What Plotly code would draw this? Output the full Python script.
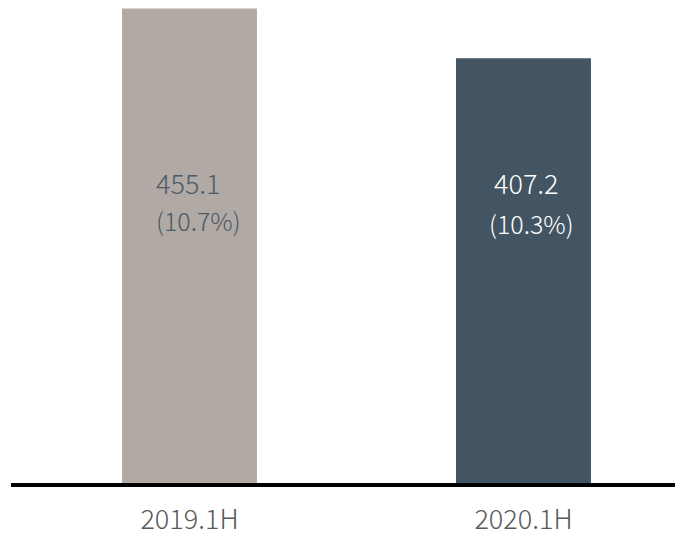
import plotly.graph_objects as go

categories = ["2019.1H", "2020.1H"]
values = [455.1, 407.2]
shares = ["(10.7%)", "(10.3%)"]
bar_colors = ["#b1a9a3", "#435563"]
label_colors = ["#4b5b69", "#ffffff"]

FONT = "Noto Sans CJK SC"

fig = go.Figure()
fig.add_trace(go.Bar(
    x=[0, 1], y=values, width=0.404,
    marker=dict(color=bar_colors, line=dict(width=0)),
    hoverinfo="skip",
))

val_shift = [-35, -31]
pct_shift = [-35, -36]
val_y = [288.5, 288.5]
pct_y = [252.5, 249.0]
for i in range(len(categories)):
    fig.add_annotation(x=i, y=val_y[i], text=f"{values[i]:.1f}", showarrow=False,
                       xanchor="left", yanchor="middle", xshift=val_shift[i],
                       font=dict(family=FONT, size=27, color=label_colors[i], weight=300))
    fig.add_annotation(x=i, y=pct_y[i], text=shares[i], showarrow=False,
                       xanchor="left", yanchor="middle", xshift=pct_shift[i],
                       font=dict(family=FONT, size=25, color=label_colors[i], weight=300))

fig.update_layout(
    width=675, height=529,
    margin=dict(l=3, r=0, t=0, b=49),
    plot_bgcolor="white", paper_bgcolor="white",
    showlegend=False,
    xaxis=dict(range=[-0.5344, 1.4776], tickmode="array", tickvals=[0, 1], ticktext=categories,
               showgrid=False, zeroline=False, showline=True, linewidth=4, linecolor="black",
               ticks="outside", ticklen=10, tickcolor="rgba(0,0,0,0)",
               tickfont=dict(family=FONT, size=27, color="#595959", weight=300)),
    yaxis=dict(range=[0, 455.5], visible=False, showgrid=False, zeroline=False),
)

fig.write_html("out.html")
